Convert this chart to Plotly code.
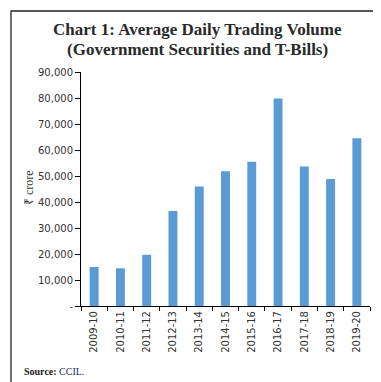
import plotly.graph_objects as go

categories = ["2009-10", "2010-11", "2011-12", "2012-13", "2013-14", "2014-15",
              "2015-16", "2016-17", "2017-18", "2018-19", "2019-20"]
volume = [15000, 14500, 19700, 36500, 46000, 51800, 55500, 79800, 53700, 48800, 64500]
y_tickvals = [0, 10000, 20000, 30000, 40000, 50000, 60000, 70000, 80000, 90000]
y_ticktext = ["-", "10,000", "20,000", "30,000", "40,000", "50,000", "60,000",
              "70,000", "80,000", "90,000"]

W, H = 381, 382
L, R, T, B = 73, 19, 64, 84
pw, ph = W - L - R, H - T - B

def px(x):
    return (x - L) / pw

def py(y):
    return (H - B - y) / ph

fig = go.Figure(go.Bar(
    x=categories, y=volume,
    marker=dict(color="#5B9BD5", line=dict(width=0)),
    width=0.34,
))

fig.update_layout(
    width=W, height=H,
    margin=dict(l=L, r=R, t=T, b=B),
    paper_bgcolor="white", plot_bgcolor="white",
    showlegend=False,
    font=dict(family="DejaVu Sans", size=10, color="#222222"),
    xaxis=dict(
        type="category", showline=True, linecolor="#000000", linewidth=1,
        ticks="outside", tickson="boundaries", ticklen=4, tickcolor="#000000",
        tickangle=-90, tickfont=dict(size=10, color="#333333"),
        showgrid=False, zeroline=False,
    ),
    yaxis=dict(
        range=[0, 90000], tickvals=y_tickvals, ticktext=y_ticktext,
        showline=True, linecolor="#000000", linewidth=1,
        ticks="outside", ticklen=5, tickcolor="#000000",
        tickfont=dict(size=10, color="#333333"),
        showgrid=False, zeroline=False,
    ),
    shapes=[dict(
        type="rect", xref="paper", yref="paper",
        x0=px(3), x1=px(376), y0=py(376), y1=py(3),
        line=dict(color="#222222", width=1.3), fillcolor="rgba(0,0,0,0)",
        layer="below",
    )],
    annotations=[
        dict(text="<b>Chart 1: Average Daily Trading Volume</b>",
             xref="paper", yref="paper", x=px(189), y=py(22),
             xanchor="center", yanchor="middle", showarrow=False,
             font=dict(family="Liberation Serif", size=17, color="#2a2a2a")),
        dict(text="<b>(Government Securities and T-Bills)</b>",
             xref="paper", yref="paper", x=px(189), y=py(42),
             xanchor="center", yanchor="middle", showarrow=False,
             font=dict(family="Liberation Serif", size=17, color="#2a2a2a")),
        dict(text="₹ crore",
             xref="paper", yref="paper", x=px(21), y=py(180),
             xanchor="center", yanchor="middle", showarrow=False, textangle=-90,
             font=dict(family="Liberation Serif", size=12, color="#333333")),
        dict(text="<b>Source:</b> <span style='color:#1f2a5a'>CCIL.</span>",
             xref="paper", yref="paper", x=px(14), y=py(363),
             xanchor="left", yanchor="middle", showarrow=False,
             font=dict(family="Liberation Serif", size=10, color="#222222")),
    ],
)

fig.write_html("out.html")
